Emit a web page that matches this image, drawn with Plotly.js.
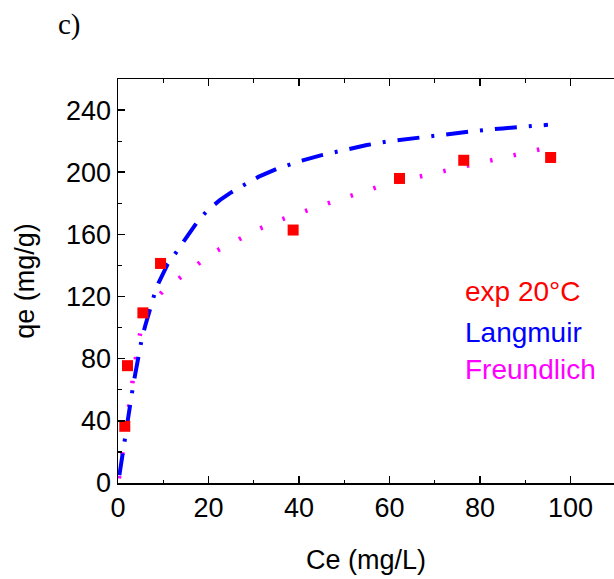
<!DOCTYPE html>
<html>
<head>
<meta charset="utf-8">
<script src="https://cdn.plot.ly/plotly-3.0.1.min.js"></script>
<style>html,body{margin:0;padding:0;background:#fff;}#chart{width:614px;height:579px;}</style>
</head>
<body>
<div id="chart"></div>
<script>
// Experimental data (20 °C)
const expCe = [1.5, 2.1, 5.5, 9.4, 38.7, 62.2, 76.4, 95.6];
const expQe = [36.5, 75.5, 109.5, 141.3, 162.8, 196, 207.7, 209.5];

// Langmuir fit curve
const langCe = [0.3, 0.8, 1.4, 2.0, 2.6, 3.2, 3.8, 4.5, 5.2, 6.0, 7.0, 8.0, 9.0, 10, 11, 12.5, 14, 16, 18, 20, 22.5, 25, 28, 31, 35, 40, 45, 50, 55, 60, 65, 70, 75, 80, 85, 90, 95];
const langQe = [5, 15, 28, 40, 50, 60, 70, 82, 92, 101, 112, 121, 129, 135, 141, 147, 153, 162, 170, 176, 182, 187, 192, 197, 202, 207, 211, 214.5, 217.5, 220, 221.8, 223.8, 225.4, 226.9, 228.2, 229.4, 230.5];

// Freundlich fit curve
const freCe = [0.2, 1.1, 1.9, 2.7, 3.5, 4.4, 5.7, 7.8, 10.1, 15.5, 20.8, 26, 31.3, 36.5, 41.9, 47.2, 52.4, 57.7, 63, 68.3, 73.5, 78.8, 84.1, 89.4, 94.7];
const freQe = [3, 21, 38.5, 55.7, 72.5, 89.7, 106.6, 117, 124, 136, 148, 155.7, 163.7, 170, 175.7, 180.8, 185.8, 190.8, 194.8, 198.3, 202, 205.8, 209.2, 212.5, 215.7];

const legendLabels = ['exp 20°C', 'Langmuir', 'Freundlich'];
const panelLabel = 'c)';
const xTitle = 'Ce (mg/L)';
const yTitle = 'qe (mg/g)';

const FONT = 'Liberation Sans, Arial, sans-serif';

const traces = [
  {x: freCe, y: freQe, mode: 'lines', name: legendLabels[2],
   line: {color: '#ff00ff', width: 4.5, dash: '2.5px,21.5px'}},
  {x: langCe, y: langQe, mode: 'lines', name: legendLabels[1],
   line: {color: '#0000ff', width: 4, dash: '22px,12px,3px,12px'}},
  {x: expCe, y: expQe, mode: 'markers', name: legendLabels[0],
   marker: {symbol: 'square', size: 11, color: '#ff0000'}}
];

const layout = {
  width: 614, height: 579,
  margin: {l: 118, r: 0, t: 79, b: 96, pad: 0},
  paper_bgcolor: '#fff', plot_bgcolor: '#fff',
  showlegend: false,
  font: {family: FONT, size: 27, color: '#000'},
  xaxis: {
    range: [0, 109.6], showgrid: false, zeroline: false,
    showline: true, linecolor: '#000', linewidth: 1.5, mirror: 'ticks',
    ticks: 'inside', ticklen: 7, tickwidth: 1.5, tickcolor: '#000',
    tick0: 0, dtick: 20,
    minor: {ticks: 'inside', ticklen: 3.5, dtick: 10, tickwidth: 1.2, tickcolor: '#000'},
    tickfont: {family: FONT, size: 27},
    title: {text: xTitle, font: {family: FONT, size: 27}, standoff: 28}
  },
  yaxis: {
    range: [0, 260], showgrid: false, zeroline: false,
    showline: true, linecolor: '#000', linewidth: 1.5, mirror: false,
    ticks: 'inside', ticklen: 7, tickwidth: 1.5, tickcolor: '#000',
    tick0: 0, dtick: 40,
    minor: {ticks: 'inside', ticklen: 3.5, dtick: 20, tickwidth: 1.2, tickcolor: '#000'},
    tickfont: {family: FONT, size: 27},
    title: {text: yTitle, font: {family: FONT, size: 27}, standoff: 23}
  },
  annotations: [
    {text: legendLabels[0], xref: 'x', yref: 'y', x: 76.2, y: 123, xanchor: 'left', yanchor: 'middle',
     showarrow: false, font: {family: FONT, size: 28, color: '#ff0000'}},
    {text: legendLabels[1], xref: 'x', yref: 'y', x: 76.2, y: 97, xanchor: 'left', yanchor: 'middle',
     showarrow: false, font: {family: FONT, size: 28, color: '#0000ff'}},
    {text: legendLabels[2], xref: 'x', yref: 'y', x: 76.2, y: 73, xanchor: 'left', yanchor: 'middle',
     showarrow: false, font: {family: FONT, size: 28, color: '#ff00ff'}},
    {text: panelLabel, xref: 'paper', yref: 'paper', x: (56 - 118) / 496, y: 1 + (79 - 25) / 404,
     xanchor: 'left', yanchor: 'middle', showarrow: false,
     font: {family: 'Liberation Serif, Times New Roman, serif', size: 29, color: '#000'}}
  ]
};

Plotly.newPlot('chart', traces, layout, {staticPlot: true, displayModeBar: false});
</script>
</body>
</html>
